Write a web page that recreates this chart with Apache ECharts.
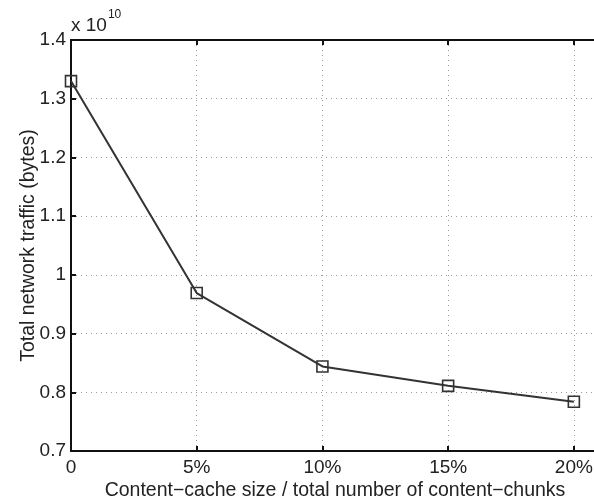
<!DOCTYPE html>
<html>
<head>
<meta charset="utf-8">
<script src="https://cdn.jsdelivr.net/npm/echarts@6/dist/echarts.min.js"></script>
<style>
    html, body { margin: 0; padding: 0; background: #fff; overflow: hidden; }
    #chart { width: 594px; height: 503px; }
</style>
</head>
<body>
<div id="chart"></div>
<script>
// cache size (% of content-chunks) and traffic (x 1e10 bytes)
const cacheSize = [0, 5, 10, 15, 20];
const traffic = [1.330, 0.969, 0.844, 0.811, 0.784];
const yTicks = [0.7, 0.8, 0.9, 1.0, 1.1, 1.2, 1.3, 1.4];

const font = 'Liberation Sans, Arial, Helvetica, sans-serif';
const gridLine = { show: true, showMaxLine: false, lineStyle: { color: '#9a9a9a', type: [1, 4], width: 1 } };

let points = [];
for (let i = 0; i < cacheSize.length; i++) {
    points.push([cacheSize[i], traffic[i]]);
}

let myChart = echarts.init(document.getElementById('chart'));
let option = {
    animation: false,
    backgroundColor: '#fff',
    textStyle: { fontFamily: font },
    graphic: [{
        type: 'text',
        left: 71,
        top: 9,
        style: {
            text: '{a|x 10}{b|10}',
            rich: {
                a: { fontSize: 19, fontFamily: font, fill: '#222', padding: [7, 1, 0, 0] },
                b: { fontSize: 12, fontFamily: font, fill: '#222', verticalAlign: 'top' }
            }
        }
    }],
    // x axis runs a bit past 20% so the right frame falls off the picture
    grid: {
        left: 71, width: 528, top: 40, height: 411, containLabel: false, outerBoundsMode: 'none',
        show: true, borderColor: '#111', borderWidth: 2
    },
    xAxis: [{
        type: 'value',
        min: 0,
        max: 21,
        interval: 5,
        axisLine: { show: true, onZero: false, lineStyle: { color: '#111', width: 2 } },
        axisTick: { show: true, inside: true, length: 5, lineStyle: { color: '#111', width: 2 } },
        axisLabel: {
            color: '#222', fontSize: 19, margin: 7, showMaxLabel: false,
            formatter: v => v === 0 ? '0' : v + '%'
        },
        splitLine: gridLine,
        name: 'Content\u2212cache size / total number of content\u2212chunks',
        nameLocation: 'middle',
        nameGap: 30,
        nameMoveOverlap: false,
        nameTextStyle: { color: '#222', fontSize: 19.5, fontFamily: font }
    }, {
        // top frame ticks
        type: 'value',
        position: 'top',
        min: 0,
        max: 21,
        interval: 5,
        axisLine: { show: true, lineStyle: { color: '#111', width: 2 } },
        axisTick: { show: true, inside: true, length: 5, lineStyle: { color: '#111', width: 2 } },
        axisLabel: { show: false },
        splitLine: { show: false }
    }],
    yAxis: {
        type: 'value',
        min: yTicks[0],
        max: yTicks[yTicks.length - 1],
        interval: 0.1,
        axisLine: { show: true, onZero: false, lineStyle: { color: '#111', width: 2 } },
        axisTick: { show: true, inside: true, length: 5, lineStyle: { color: '#111', width: 2 } },
        axisLabel: {
            color: '#222', fontSize: 19, margin: 5,
            formatter: v => String(parseFloat(v.toFixed(1)))
        },
        splitLine: gridLine,
        name: 'Total network traffic (bytes)',
        nameLocation: 'middle',
        nameGap: 32,
        nameMoveOverlap: false,
        nameTextStyle: { color: '#222', fontSize: 19.5, fontFamily: font }
    },
    series: [{
        type: 'line',
        data: points,
        symbol: 'rect',
        symbolSize: 11,
        lineStyle: { color: '#333', width: 2 },
        itemStyle: { color: 'transparent', borderColor: '#333', borderWidth: 1.6 }
    }]
};
myChart.setOption(option);
</script>
</body>
</html>
